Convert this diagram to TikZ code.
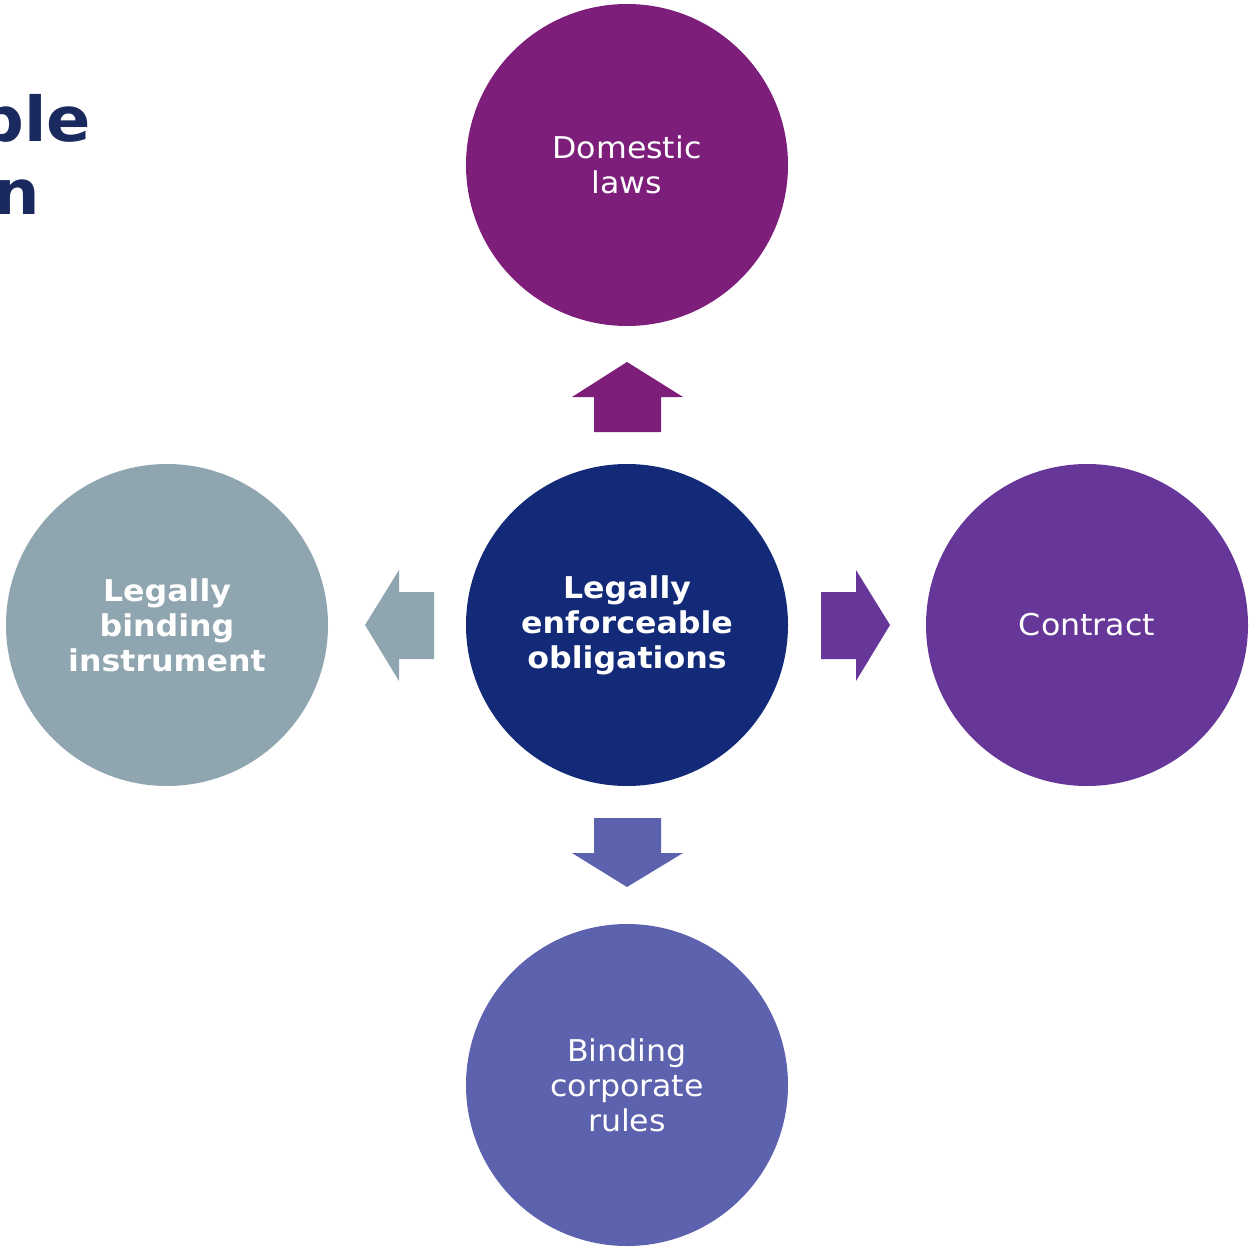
\documentclass[tikz,border=0pt]{standalone}
\usepackage{fontspec}
\setmainfont{DejaVu Sans}[FakeStretch=1.055]
\definecolor{cTop}{HTML}{7E1E7B}
\definecolor{cMid}{HTML}{122A78}
\definecolor{cRight}{HTML}{663799}
\definecolor{cBot}{HTML}{5D62AE}
\definecolor{cLeft}{HTML}{8FA5B0}
\definecolor{cTitle}{HTML}{1B2A5E}
\tikzset{
  circ/.style={circle, minimum size=322pt, inner sep=0pt, text=white, align=center,
    font=\fontsize{30}{35}\selectfont},
  boldtxt/.style={font=\fontsize{30}{35}\selectfont\bfseries},
  titletxt/.style={text=cTitle, font=\fontsize{62}{74}\selectfont\bfseries, inner sep=0pt, anchor=base east},
}
\begin{document}
\begin{tikzpicture}[x=1pt,y=-1pt]
\useasboundingbox (0,0) rectangle (1249,1249);
\node[titletxt] (t1) at (91,142) {ble};
\node[titletxt] (t2) at (40,215) {n};
\node[circ, fill=cTop] (top) at (627,165) {Domestic\\laws};
\node[circ, fill=cMid, boldtxt] (mid) at (627,625) {Legally\\enforceable\\obligations};
\node[circ, fill=cRight] (right) at (1087,625) {Contract};
\node[circ, fill=cBot] (bot) at (627,1085) {Binding\\corporate\\rules};
\node[circ, fill=cLeft, boldtxt] (left) at (167,625) {Legally\\binding\\instrument};
% arrows (block shapes)
\fill[cTop] (594,432) -- (594,397) -- (572,397) -- (627,362) -- (683,397) -- (661,397) -- (661,432) -- cycle;
\fill[cBot] (594,818) -- (594,853) -- (572,853) -- (627,887) -- (683,853) -- (661,853) -- (661,818) -- cycle;
\fill[cRight] (821,592) -- (856,592) -- (856,570) -- (890,625) -- (856,681) -- (856,659) -- (821,659) -- cycle;
\fill[cLeft] (434,592) -- (399,592) -- (399,570) -- (365,625) -- (399,681) -- (399,659) -- (434,659) -- cycle;
\end{tikzpicture}
\end{document}
